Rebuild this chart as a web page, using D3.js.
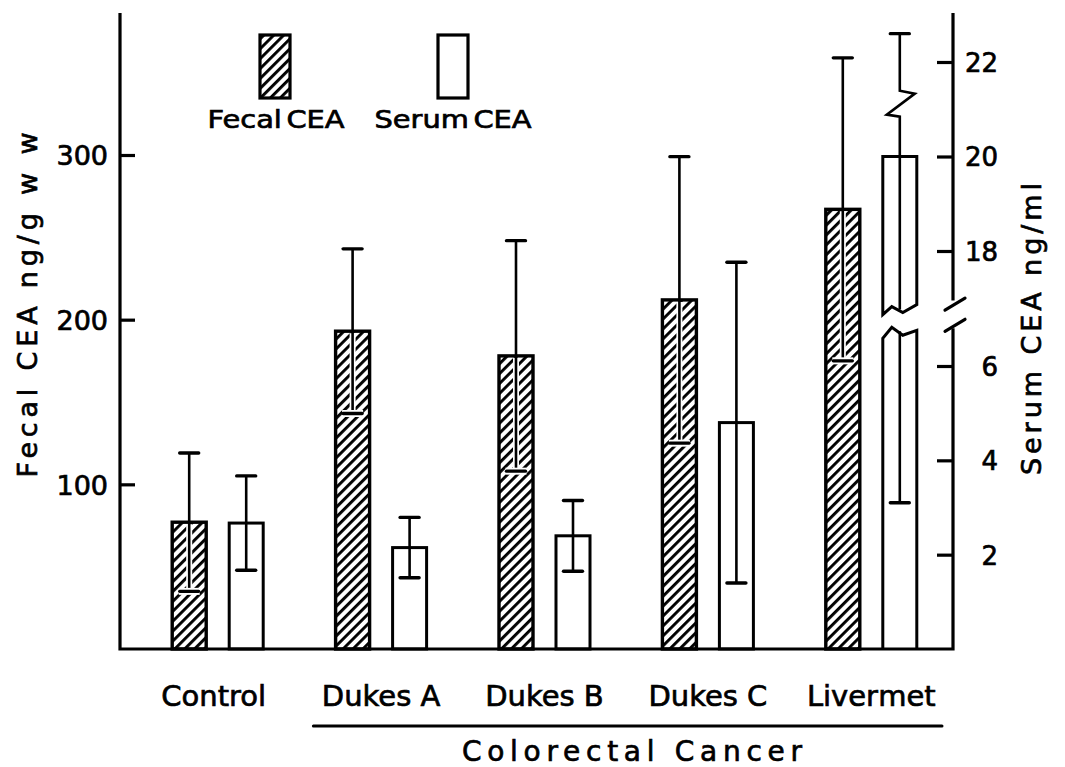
<!DOCTYPE html>
<html><head><meta charset="utf-8">
<script src="https://cdn.jsdelivr.net/npm/d3@7"></script>
<style>
body{margin:0;background:#fff}
svg{display:block}
text{font-family:"DejaVu Sans",sans-serif;fill:#000;stroke:#000;stroke-width:0.7px}
</style>
</head><body>
<script>
// ---- data ----
const categories = ["Control","Dukes A","Dukes B","Dukes C","Liver met"];
const series = ["Fecal CEA","Serum CEA"];
const fecalMean = [77,193,178,212,267];
const fecalSD   = [42,50,70,87,92];
const serumMean = [2.67,2.15,2.4,4.8,20];
const serumSD   = [1.0,0.64,0.75,3.4,16.9];
const fecalTicks = [100,200,300];
const serumTicksLow = [2,4,6];
const serumTicksHigh = [18,20,22];
const serumDisplayCap = 22.6;   // off-scale error bar drawn broken at this value
const groupTitle = "Colorectal Cancer";
const leftTitle = "Fecal CEA  ng/g w w";
const rightTitle = "Serum CEA  ng/ml";

const W = 1065, H = 767;
const svg = d3.select("body").append("svg").attr("width",W).attr("height",H);

const defs = svg.append("defs");
const pat = defs.append("pattern").attr("id","hatch").attr("patternUnits","userSpaceOnUse")
  .attr("width",7).attr("height",7).attr("patternTransform","rotate(45)");
pat.append("rect").attr("width",7).attr("height",7).attr("fill","#fff");
pat.append("rect").attr("width",2.9).attr("height",7).attr("fill","#000");

// ---- scales ----
const xL = 120, xR = 953, yBase = 649, yTop = 13;
const x0 = d3.scaleBand().domain(categories).range([136, xR]);
const xs = d3.scaleBand().domain(series).range([-45.5, 45.5]).paddingInner(0.4035);
const yF = d3.scaleLinear().domain([0,300]).range([yBase,155]);
const ySL = d3.scaleLinear().domain([0,6]).range([yBase,366]);
const ySH = d3.scaleLinear().domain([18,22]).range([251,62]);
const breakLoVal = 6.8, breakHiVal = 16.95;
const yBreakLo = ySL(breakLoVal), yBreakHi = ySH(breakHiVal);
const yS = v => v >= breakHiVal ? ySH(v) : ySL(v);

const black = "#000";

// ---- bars ----
const gBars = svg.append("g");
categories.forEach((c,i) => {
  const cx0 = x0(c) + x0.bandwidth()/2;
  const bw = xs.bandwidth();
  const fx = cx0 + xs(series[0]);
  gBars.append("rect").attr("x",fx).attr("y",yF(fecalMean[i]))
    .attr("width",bw).attr("height",yBase - yF(fecalMean[i]))
    .attr("fill","url(#hatch)").attr("stroke",black).attr("stroke-width",3.4);
  const sx = cx0 + xs(series[1]);
  const sv = serumMean[i];
  if (sv >= breakHiVal) {
    const L = sx, R = sx + bw, t = yS(sv);
    const up = `M${L},${yBreakHi+14} L${L},${t} L${R},${t} L${R},${yBreakHi+4} L${L+20},${yBreakHi+12} L${L+9},${yBreakHi+6} Z`;
    const lo = `M${L},${yBase} L${L},${yBreakLo+10} L${L+9},${yBreakLo-1} L${L+20},${yBreakLo+7} L${R},${yBreakLo+2} L${R},${yBase}`;
    gBars.append("path").attr("d",up).attr("fill","#fff").attr("stroke",black).attr("stroke-width",3).attr("stroke-linejoin","miter");
    gBars.append("path").attr("d",lo).attr("fill","#fff").attr("stroke",black).attr("stroke-width",3).attr("stroke-linejoin","miter");
  } else {
    gBars.append("rect").attr("x",sx).attr("y",yS(sv))
      .attr("width",bw).attr("height",yBase - yS(sv))
      .attr("fill","#fff").attr("stroke",black).attr("stroke-width",3);
  }
});

// ---- error bars ----
const gErr = svg.append("g");
const capW = 19;
function cap(cx,y,halo){
  if (halo) gErr.append("line").attr("x1",cx-capW/2-1).attr("x2",cx+capW/2+1).attr("y1",y).attr("y2",y)
      .attr("stroke","#fff").attr("stroke-width",7);
  gErr.append("line").attr("x1",cx-capW/2).attr("x2",cx+capW/2).attr("y1",y).attr("y2",y)
    .attr("stroke",black).attr("stroke-width",3.4).attr("stroke-linecap","round");
}
categories.forEach((c,i) => {
  const cx0 = x0(c) + x0.bandwidth()/2;
  const bw = xs.bandwidth();
  const fc = cx0 + xs(series[0]) + bw/2;
  const fHi = yF(fecalMean[i] + fecalSD[i]), fLo = yF(fecalMean[i] - fecalSD[i]), fTop = yF(fecalMean[i]);
  gErr.append("line").attr("x1",fc).attr("x2",fc).attr("y1",fTop+2).attr("y2",fLo)
    .attr("stroke","#fff").attr("stroke-width",6);
  gErr.append("line").attr("x1",fc).attr("x2",fc).attr("y1",fHi).attr("y2",fLo)
    .attr("stroke",black).attr("stroke-width",2.6);
  cap(fc,fHi,false); cap(fc,fLo,true);
  const sc = cx0 + xs(series[1]) + bw/2;
  const m = serumMean[i], s = serumSD[i];
  const lo = yS(m - s);
  if (m + s > serumDisplayCap) {
    const yc = yS(serumDisplayCap);
    const d = `M${sc},${yc} L${sc},${yc+57} L${sc+15},${yc+60} L${sc-13},${yc+81} L${sc},${yc+83} L${sc},${yBreakHi+9}`;
    gErr.append("path").attr("d",d).attr("fill","none").attr("stroke",black).attr("stroke-width",2.6);
    gErr.append("line").attr("x1",sc).attr("x2",sc).attr("y1",yBreakLo+3).attr("y2",lo)
      .attr("stroke",black).attr("stroke-width",2.6);
    cap(sc,yc,false); cap(sc,lo,false);
  } else {
    const hi = yS(m + s);
    gErr.append("line").attr("x1",sc).attr("x2",sc).attr("y1",hi).attr("y2",lo)
      .attr("stroke",black).attr("stroke-width",2.6);
    cap(sc,hi,false); cap(sc,lo,false);
  }
});

// ---- axes ----
const gAx = svg.append("g").attr("stroke",black).attr("stroke-width",3.2).attr("fill","none");
gAx.append("path").attr("d",`M${xL},${yTop} L${xL},${yBase} L${xR},${yBase} L${xR},${yBreakLo}`).attr("stroke-linejoin","miter");
gAx.append("path").attr("d",`M${xR},${yTop} L${xR},${yBreakHi}`);
gAx.append("line").attr("x1",xR-8).attr("y1",yBreakHi+9.5).attr("x2",xR+12).attr("y2",yBreakHi-2.5).attr("stroke-linecap","round");
gAx.append("line").attr("x1",xR-8).attr("y1",yBreakLo+3).attr("x2",xR+12).attr("y2",yBreakLo-9).attr("stroke-linecap","round");

function styleAxis(g, fs){
  g.select(".domain").remove();
  g.selectAll(".tick line").attr("stroke",black).attr("stroke-width",3.2);
  g.attr("font-size",fs).attr("font-family",'"DejaVu Sans",sans-serif');
}
const axL = svg.append("g").attr("transform",`translate(${xL},0)`)
  .call(d3.axisLeft(yF).tickValues(fecalTicks).tickSizeInner(-15).tickSizeOuter(0).tickPadding(12).tickFormat(d3.format("d")));
styleAxis(axL,27);
axL.selectAll(".tick text").attr("dy","0.36em");

const axRL = svg.append("g").attr("transform",`translate(${xR},0)`)
  .call(d3.axisRight(ySL).tickValues(serumTicksLow).tickSizeInner(-16).tickSizeOuter(0).tickFormat(d3.format("d")));
const axRH = svg.append("g").attr("transform",`translate(${xR},0)`)
  .call(d3.axisRight(ySH).tickValues(serumTicksHigh).tickSizeInner(-16).tickSizeOuter(0).tickFormat(d3.format("d")));
[axRL,axRH].forEach(g => {
  styleAxis(g,26);
  g.selectAll(".tick text").attr("text-anchor","end").attr("x",45).attr("dy","0.36em");
});

// ---- category labels ----
svg.append("g").selectAll("text").data(categories).join("text")
  .attr("x",d => x0(d) + x0.bandwidth()/2 - (d==="Control"?4:0))
  .attr("y",706).attr("text-anchor","middle").attr("font-size",29)
  .attr("word-spacing", d => d==="Liver met" ? -9 : 0)
  .text(d => d);

// group underline + title
svg.append("line").attr("x1",x0(categories[1])+14).attr("x2",xR-11).attr("y1",726).attr("y2",726)
  .attr("stroke",black).attr("stroke-width",3).attr("stroke-linecap","round");
svg.append("text").attr("x",632).attr("y",761).attr("text-anchor","middle").attr("font-size",28)
  .attr("textLength",340).attr("lengthAdjust","spacing").text(groupTitle);

// axis titles
svg.append("text").attr("transform","translate(37,305) rotate(-90)").attr("text-anchor","middle")
  .attr("font-size",27).attr("textLength",345).attr("lengthAdjust","spacing").text(leftTitle);
svg.append("text").attr("transform","translate(1041,329) rotate(-90)").attr("text-anchor","middle")
  .attr("font-size",27).attr("textLength",292).attr("lengthAdjust","spacing").text(rightTitle);

// ---- legend ----
const legX = [260, 438], legLabelX = [276, 453];
const gLeg = svg.append("g");
series.forEach((s,i) => {
  gLeg.append("rect").attr("x",legX[i]).attr("y",35).attr("width",30).attr("height",63)
    .attr("fill", i===0 ? "url(#hatch)" : "#fff").attr("stroke",black).attr("stroke-width",3.2);
  gLeg.append("text").attr("x",legLabelX[i]).attr("y",128).attr("text-anchor","middle")
    .attr("font-size",25).attr("textLength", i===0 ? 137 : 157).attr("lengthAdjust","spacingAndGlyphs")
    .attr("word-spacing",-4).text(s);
});
</script>
</body></html>
